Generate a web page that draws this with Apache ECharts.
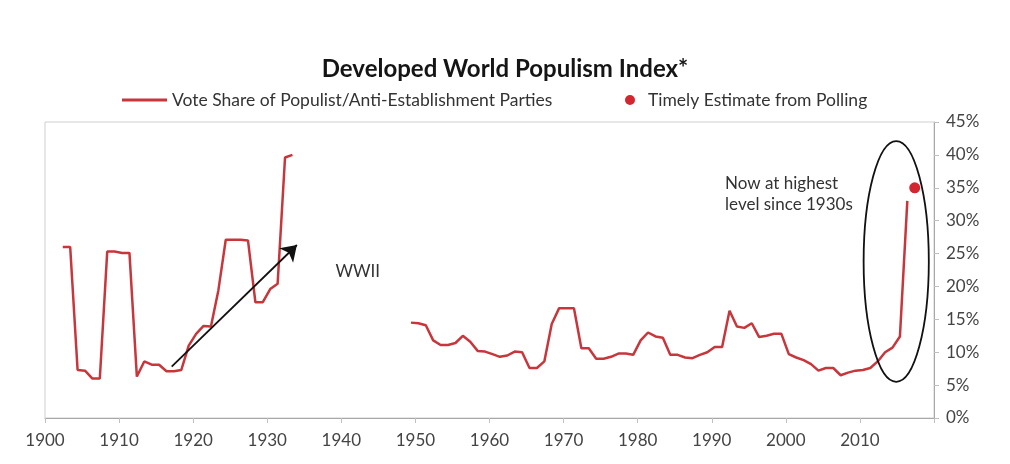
<!DOCTYPE html>
<html><head><meta charset="utf-8">
<script src="https://cdn.jsdelivr.net/npm/echarts@6/dist/echarts.min.js"></script>
<style>html,body{margin:0;padding:0;background:#fff}#c{width:1010px;height:464px}</style>
</head><body><div id="c"></div>
<script>
// Pre-war segment (x positions)
const prewarYears = [1902.4,1903.4,1904.4,1905.4,1906.4,1907.4,1908.4,1909.4,1910.4,1911.4,1912.4,1913.4,1914.4,1915.4,1916.4,1917.4,1918.4,1919.4,1920.4,1921.4,1922.4,1923.4,1924.4,1925.4,1926.4,1927.4,1928.4,1929.4,1930.4,1931.4,1932.4,1933.4];
const prewarValues = [26.0,26.0,7.3,7.2,6.0,6.0,25.3,25.3,25.1,25.1,6.3,8.6,8.1,8.1,7.1,7.1,7.3,11.0,12.8,14.0,13.9,19.4,27.1,27.1,27.1,27.0,17.6,17.6,19.6,20.4,39.6,40.0];
// Post-war segment
const postwarYears = [1949.4,1950.4,1951.4,1952.4,1953.4,1954.4,1955.4,1956.4,1957.4,1958.4,1959.4,1960.4,1961.4,1962.4,1963.4,1964.4,1965.4,1966.4,1967.4,1968.4,1969.4,1970.4,1971.4,1972.4,1973.4,1974.4,1975.4,1976.4,1977.4,1978.4,1979.4,1980.4,1981.4,1982.4,1983.4,1984.4,1985.4,1986.4,1987.4,1988.4,1989.4,1990.4,1991.4,1992.4,1993.4,1994.4,1995.4,1996.4,1997.4,1998.4,1999.4,2000.4,2001.4,2002.4,2003.4,2004.4,2005.4,2006.4,2007.4,2008.4,2009.4,2010.4,2011.4,2012.4,2013.4,2014.4,2015.4,2016.4];
const postwarValues = [14.5,14.4,14.1,11.8,11.1,11.1,11.4,12.5,11.6,10.2,10.1,9.7,9.3,9.5,10.1,10.0,7.6,7.6,8.6,14.3,16.7,16.7,16.7,10.6,10.6,9.0,9.0,9.3,9.8,9.8,9.6,11.8,13.0,12.4,12.2,9.6,9.6,9.2,9.1,9.6,10.0,10.8,10.8,16.3,13.9,13.7,14.4,12.3,12.5,12.8,12.8,9.7,9.2,8.8,8.2,7.2,7.6,7.6,6.5,6.9,7.2,7.3,7.6,8.6,10.0,10.7,12.4,33.0];
// Timely estimate from polling
const pollYears = [2017.4];
const pollValues = [35.0];
// Annotations (data coordinates)
const arrowFrom = [1917.1, 7.8];
const arrowTo = [1934.0, 26.3];
const ellipseCenter = [2014.9, 23.8];
const ellipseRadii = [4.4, 18.3];
const noteTexts = ['WWII', 'Now at highest\nlevel since 1930s'];
const notePos = [[1939.2, 22.2], [1991.8, 34.1]];

const RED = '#c8363c';
const FONT = 'Lato';
const lineName = 'Vote Share of Populist/Anti-Establishment Parties';
const dotName = 'Timely Estimate from Polling';

const chart = echarts.init(document.getElementById('c'), null, {renderer: 'canvas'});
chart.setOption({
  backgroundColor: '#ffffff',
  animation: false,
  title: {
    text: 'Developed World Populism Index*',
    left: 'center', top: 57, padding: 0,
    textStyle: {fontFamily: FONT, fontWeight: 'bold', fontSize: 24, color: '#151515'}
  },
  legend: [
    {
      data: [{name: lineName, icon: 'rect'}],
      left: 122, top: 91, padding: 0,
      itemWidth: 45, itemHeight: 3,
      textStyle: {fontFamily: FONT, fontSize: 17.5, color: '#333'}
    },
    {
      data: [{name: dotName, icon: 'circle'}],
      left: 625, top: 91, padding: 0,
      itemWidth: 10, itemHeight: 10,
      itemStyle: {opacity: 1},
      textStyle: {fontFamily: FONT, fontSize: 17.5, color: '#333', padding: [0, 0, 0, 8]}
    }
  ],
  grid: {left: 45, right: 76, top: 122, bottom: 46, show: true, borderColor: '#cfcfcf', borderWidth: 1, backgroundColor: 'transparent'},
  xAxis: {
    type: 'value', min: 1900, max: 2020, interval: 10,
    axisLine: {show: true, lineStyle: {color: '#a8a8a8', width: 1}},
    axisTick: {show: true, length: 5, lineStyle: {color: '#c0c0c0'}},
    splitLine: {show: false},
    axisLabel: {
      margin: 14, fontFamily: FONT, fontSize: 17, color: '#444',
      formatter: v => (v >= 2020 ? '' : String(v))
    }
  },
  yAxis: {
    type: 'value', position: 'right', min: 0, max: 45, interval: 5,
    axisLine: {show: true, lineStyle: {color: '#a8a8a8', width: 1}},
    axisTick: {show: true, length: 5, lineStyle: {color: '#c0c0c0'}},
    splitLine: {show: false},
    axisLabel: {margin: 12, fontFamily: FONT, fontSize: 17, color: '#444', formatter: '{value}%'}
  },
  series: [
    {
      name: lineName, type: 'line', showSymbol: false, symbol: 'none',
      data: prewarYears.map((y, i) => [y, prewarValues[i]]),
      lineStyle: {color: RED, width: 2.5}, itemStyle: {color: RED}, z: 3
    },
    {
      name: lineName, type: 'line', showSymbol: false, symbol: 'none',
      data: postwarYears.map((y, i) => [y, postwarValues[i]]),
      lineStyle: {color: RED, width: 2.5}, itemStyle: {color: RED}, z: 3
    },
    {
      name: dotName, type: 'scatter', symbolSize: 11,
      data: pollYears.map((y, i) => [y, pollValues[i]]),
      itemStyle: {color: '#d4262e', opacity: 1}, z: 4
    },
    {
      type: 'lines', coordinateSystem: 'cartesian2d', polyline: false,
      symbol: ['none', 'arrow'], symbolSize: 15,
      data: [{coords: [arrowFrom, arrowTo]}],
      lineStyle: {color: '#111', width: 1.8, opacity: 1}, z: 5
    },
    {
      type: 'custom', silent: true, z: 5,
      data: [[ellipseCenter[0], ellipseCenter[1], ellipseRadii[0], ellipseRadii[1]]],
      renderItem: (params, api) => {
        const c = api.coord([api.value(0), api.value(1)]);
        const s = api.size([api.value(2), api.value(3)]);
        return {type: 'ellipse', shape: {cx: c[0], cy: c[1], rx: s[0], ry: s[1]},
                style: {fill: 'none', stroke: '#111', lineWidth: 1.8}};
      }
    },
    {
      type: 'custom', silent: true, z: 6,
      data: notePos,
      renderItem: (params, api) => {
        const p = api.coord([api.value(0), api.value(1)]);
        return {type: 'text', x: p[0], y: p[1],
                style: {text: noteTexts[params.dataIndex], fill: '#333', font: '17px ' + FONT,
                        lineHeight: 21, align: 'left', verticalAlign: 'middle'}};
      }
    }
  ]
});
</script></body></html>
